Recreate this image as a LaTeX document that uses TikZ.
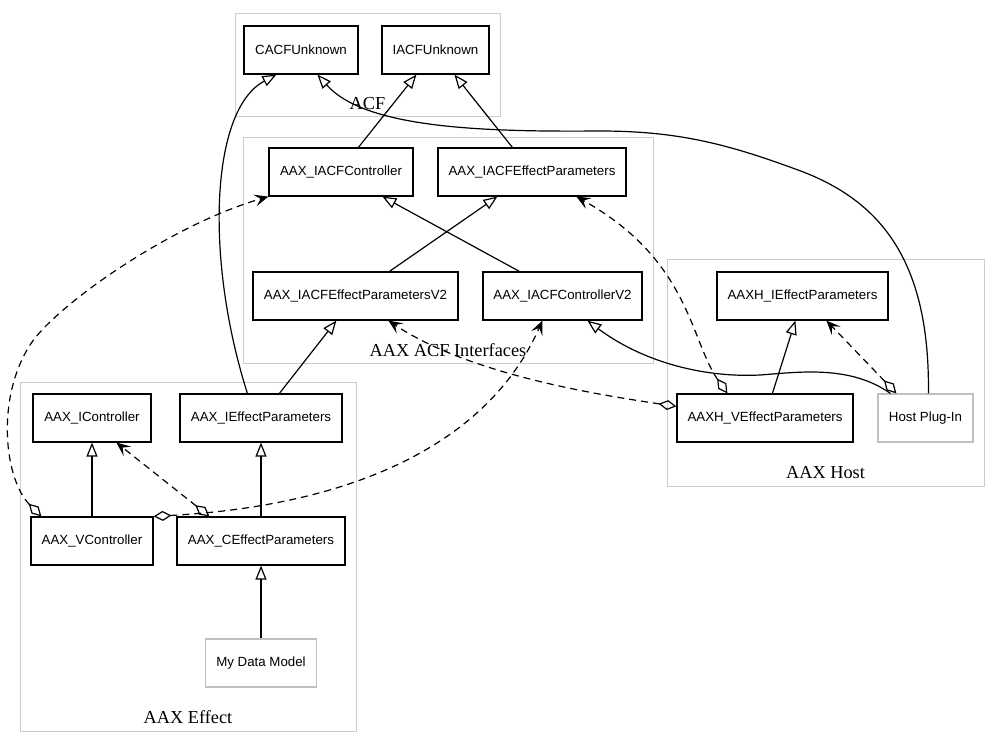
\documentclass[tikz,border=0pt]{standalone}
\usepackage{fontspec}
\setmainfont{Liberation Serif}
\newfontfamily\nodefont{Liberation Sans}
\usetikzlibrary{arrows.meta,calc}
\begin{document}
\begin{tikzpicture}[x=1pt,y=-1pt,
  cls/.style={draw=black,line width=1.2pt,fill=white,rectangle,inner sep=0pt,minimum height=48pt,font=\nodefont\fontsize{13.3}{16}\selectfont},
  ext/.style={cls,draw=black!25},
  cluster/.style={draw=black!20,line width=1pt},
  clabel/.style={anchor=base,inner sep=0pt,font=\fontsize{18.3}{22}\selectfont},
  inh/.style={line width=1.2pt,-{Triangle[open,length=14pt,width=11pt]}},
  dep/.style={line width=1.2pt,dash pattern=on 7pt off 5pt,{Diamond[open,length=18pt,width=10pt]}-{Stealth[length=14pt,width=12pt,inset=6pt]}},
]
\fill[white] (0,0) rectangle (1000,749);
\useasboundingbox (0,0) rectangle (1000,749);

% clusters
\draw[cluster] (235,14) rectangle (500,117);
\draw[cluster] (243,137) rectangle (653,363);
\draw[cluster] (667,259) rectangle (984,486);
\draw[cluster] (20,382) rectangle (356,731);
\node[clabel] (lacf) at (367.5,110) {ACF};
\node[clabel] (lint) at (448,356) {AAX ACF Interfaces};
\node[clabel] (lhost) at (825.5,478.5) {AAX Host};
\node[clabel] (leff) at (188,723.5) {AAX Effect};

% nodes
\node[cls,minimum width=114pt] (cacf) at (301,50) {CACFUnknown};
\node[cls,minimum width=107pt] (iacf) at (435.5,50) {IACFUnknown};
\node[cls,minimum width=144pt] (iacfctrl) at (341,172) {AAX\_IACFController};
\node[cls,minimum width=188pt] (iacfep) at (532,172) {AAX\_IACFEffectParameters};
\node[cls,minimum width=205pt] (iacfepv2) at (355.5,296) {AAX\_IACFEffectParametersV2};
\node[cls,minimum width=159pt] (iacfctrlv2) at (562.5,296) {AAX\_IACFControllerV2};
\node[cls,minimum width=171pt] (aaxhiep) at (802.5,296) {AAXH\_IEffectParameters};
\node[cls,minimum width=176pt] (aaxhvep) at (765,418) {AAXH\_VEffectParameters};
\node[ext,minimum width=95pt] (host) at (925.5,418) {Host Plug-In};
\node[cls,minimum width=118pt] (ictrl) at (92,418) {AAX\_IController};
\node[cls,minimum width=162pt] (iep) at (261,418) {AAX\_IEffectParameters};
\node[cls,minimum width=122pt] (vctrl) at (92,541) {AAX\_VController};
\node[cls,minimum width=168pt] (cep) at (261,541) {AAX\_CEffectParameters};
\node[ext,minimum width=111pt] (mdm) at (261,663) {My Data Model};

% inheritance
\draw[inh] ($(iacfctrl.north west)+(90,0)$) -- ($(iacf.south west)+(35,0)$);
\draw[inh] ($(iacfep.north west)+(75,0)$) -- ($(iacf.south west)+(73,0)$);
\draw[inh] ($(iep.north west)+(68,0)$) .. controls (205,260) and (210,110) .. ($(cacf.south west)+(33,0)$);
\draw[inh] ($(host.north west)+(51,0)$) .. controls (930,260) and (880,200) .. (798,170)
  .. controls (730,145) and (680,131) .. (600,131)
  .. controls (480,132) and (365,128) .. ($(cacf.south west)+(74,0)$);
\draw[inh] ($(iacfepv2.north west)+(137,0)$) -- ($(iacfep.south west)+(60,0)$);
\draw[inh] ($(iacfctrlv2.north west)+(37,0)$) -- ($(iacfctrl.south west)+(114,0)$);
\draw[inh] ($(iep.north west)+(100,0)$) -- ($(iacfepv2.south west)+(84,0)$);
\draw[inh] ($(host.north west)+(13,0)$) .. controls (850,365) and (800,372) .. (760,375)
  .. controls (700,378) and (640,360) .. ($(iacfctrlv2.south west)+(105,0)$);
\draw[inh] ($(aaxhvep.north west)+(96,0)$) -- ($(aaxhiep.south west)+(79,0)$);
\draw[inh] (vctrl.north) -- (ictrl.south);
\draw[inh] (cep.north) -- (iep.south);
\draw[inh] (mdm.north) -- (cep.south);

% dependencies (aggregation)
\draw[dep] ($(host.north west)+(19,0)$) -- ($(aaxhiep.south west)+(110,0)$);
\draw[dep] ($(aaxhvep.north west)+(51,0)$) .. controls (690,340) and (690,260) .. ($(iacfep.south west)+(139,0)$);
\draw[dep] ($(aaxhvep.north west)+(0,13)$) .. controls (600,395) and (470,375) .. ($(iacfepv2.south west)+(136,0)$);
\draw[dep] ($(vctrl.north west)+(11,0)$) .. controls (5,480) and (-5,400) .. (30,345)
  .. controls (55,306) and (170,225) .. (iacfctrl.south west);
\draw[dep] (vctrl.north east) .. controls (360,505) and (490,440) .. ($(iacfctrlv2.south west)+(60,0)$);
\draw[dep] ($(cep.north west)+(33,0)$) -- ($(ictrl.south west)+(84,0)$);
\end{tikzpicture}
\end{document}
